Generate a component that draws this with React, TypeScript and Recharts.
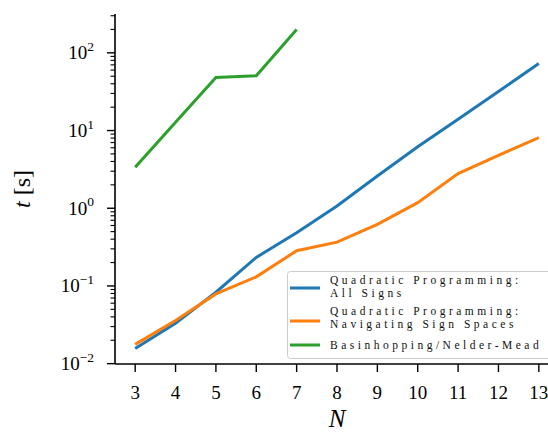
import React from 'react';
import { LineChart, Line, XAxis, YAxis } from 'recharts';

const N = [3, 4, 5, 6, 7, 8, 9, 10, 11, 12, 13];
const qpAllSigns = [0.0157, 0.033, 0.083, 0.233, 0.485, 1.07, 2.6, 6.2, 14, 31.8, 73];
const qpNavigating = [0.0177, 0.036, 0.079, 0.131, 0.284, 0.366, 0.62, 1.18, 2.79, 4.8, 8.1];
const basinhopping = [3.38, 12.8, 48.3, 50.7, 200];
const majorTicks = [0.01, 0.1, 1, 10, 100];
const majorExp = ['−2', '−1', '0', '1', '2'];
const minorTicks = [
  0.02, 0.03, 0.04, 0.05, 0.06, 0.07, 0.08, 0.09,
  0.2, 0.3, 0.4, 0.5, 0.6, 0.7, 0.8, 0.9,
  2, 3, 4, 5, 6, 7, 8, 9,
  20, 30, 40, 50, 60, 70, 80, 90,
  200, 300,
];
const legendLabels = [
  ['Quadratic Programming:', 'All Signs'],
  ['Quadratic Programming:', 'Navigating Sign Spaces'],
  ['Basinhopping/Nelder-Mead'],
];

const COLORS = ['#1f77b4', '#ff7f0e', '#2ca02c'];
const FONT = '"Liberation Serif", "DejaVu Serif", serif';

const data = N.map((n, i) => ({
  n,
  all: qpAllSigns[i],
  nav: qpNavigating[i],
  bh: i < basinhopping.length ? basinhopping[i] : null,
}));

const allYTicks = [...majorTicks, ...minorTicks].sort((a, b) => a - b);

const Y_TICK = 8;
const Y_MARGIN = 13;
const X_TICK = 8;
const X_MARGIN = 6;

const YTick = (props: any) => {
  const { x, y, payload } = props;
  const v = payload.value;
  const idx = majorTicks.findIndex((m) => Math.abs(m - v) / m < 1e-6);
  const spine = x + Y_MARGIN + Y_TICK;
  const isMajor = idx >= 0;
  return (
    <g>
      <line
        x1={spine - (isMajor ? Y_TICK : 4.5)}
        x2={spine}
        y1={y}
        y2={y}
        stroke="#000"
        strokeWidth={isMajor ? 1.4 : 1.1}
      />
      {isMajor && (
        <text x={x} y={y + 6.5} textAnchor="end" fontFamily={FONT} fontSize={19} fill="#000">
          <tspan>10</tspan>
          <tspan dy={-8.5} fontSize={13.5}>{majorExp[idx]}</tspan>
        </text>
      )}
    </g>
  );
};

const XTick = (props: any) => {
  const { x, y, payload } = props;
  const top = y - X_MARGIN - X_TICK;
  return (
    <g>
      <line x1={x} x2={x} y1={top} y2={top + X_TICK} stroke="#000" strokeWidth={1.4} />
      <text x={x} y={y + 21} textAnchor="middle" fontFamily={FONT} fontSize={19} fill="#000">
        {payload.value}
      </text>
    </g>
  );
};

const YLabel = (props: any) => {
  const vb = props.viewBox || { x: 0, y: 0, width: 0, height: 0 };
  const cx = vb.x + 22;
  const cy = vb.y + vb.height / 2;
  return (
    <text
      x={cx}
      y={cy}
      transform={`rotate(-90 ${cx} ${cy})`}
      textAnchor="middle"
      dominantBaseline="central"
      fontFamily={FONT}
      fontSize={24}
      fill="#000"
    >
      <tspan fontStyle="italic">t</tspan>
      <tspan> [s]</tspan>
    </text>
  );
};

const XLabel = (props: any) => {
  const vb = props.viewBox || { x: 0, y: 0, width: 0, height: 0 };
  const cx = vb.x + vb.width / 2;
  return (
    <text x={cx} y={vb.y + vb.height - 5} textAnchor="middle" fontFamily={FONT} fontSize={25} fontStyle="italic" fill="#000">
      N
    </text>
  );
};

const legendLineY = [288, 321, 345];
const legendTextY = [[283.5, 297], [314.5, 328], [349]];

export default function App() {
  return (
    <div style={{ position: 'fixed', left: 0, top: 0, width: 548, height: 432, overflow: 'hidden', background: '#fff' }}>
      <LineChart width={580} height={432} data={data} margin={{ top: 14, right: 21, bottom: 0, left: 0 }}>
        <XAxis
          dataKey="n"
          type="number"
          domain={[2.5, 13.5]}
          allowDataOverflow
          ticks={N}
          interval={0}
          height={68}
          tickSize={X_TICK}
          tickMargin={X_MARGIN}
          tickLine={false}
          tick={<XTick />}
          axisLine={{ stroke: '#000', strokeWidth: 1.6 }}
          label={<XLabel />}
        />
        <XAxis
          xAxisId="top"
          orientation="top"
          dataKey="n"
          type="number"
          domain={[2.5, 13.5]}
          allowDataOverflow
          height={0}
          tick={false}
          tickLine={false}
          axisLine={{ stroke: '#000', strokeWidth: 1.6 }}
        />
        <YAxis
          scale="log"
          domain={[0.0099, 316]}
          allowDataOverflow
          ticks={allYTicks}
          interval={0}
          width={115}
          tickSize={Y_TICK}
          tickMargin={Y_MARGIN}
          tickLine={false}
          tick={<YTick />}
          axisLine={{ stroke: '#000', strokeWidth: 1.6 }}
          label={<YLabel />}
        />
        <Line dataKey="all" stroke={COLORS[0]} strokeWidth={3} dot={false} isAnimationActive={false} />
        <Line dataKey="nav" stroke={COLORS[1]} strokeWidth={3} dot={false} isAnimationActive={false} />
        <Line dataKey="bh" stroke={COLORS[2]} strokeWidth={3} dot={false} isAnimationActive={false} />
      </LineChart>
      <svg width={548} height={432} style={{ position: 'absolute', left: 0, top: 0, pointerEvents: 'none' }}>
        <rect x={287.5} y={271.5} width={290} height={87} rx={3} fill="#fff" fillOpacity={0.8} stroke="#cccccc" strokeWidth={1} />
        {legendLabels.map((lines, i) => (
          <g key={i}>
            <line x1={290} x2={320} y1={legendLineY[i]} y2={legendLineY[i]} stroke={COLORS[i]} strokeWidth={3} />
            {lines.map((t, j) => (
              <text key={j} x={330} y={legendTextY[i][j]} fontFamily={FONT} fontSize={11.5} letterSpacing={3.5} fill="#111">
                {t}
              </text>
            ))}
          </g>
        ))}
      </svg>
    </div>
  );
}
